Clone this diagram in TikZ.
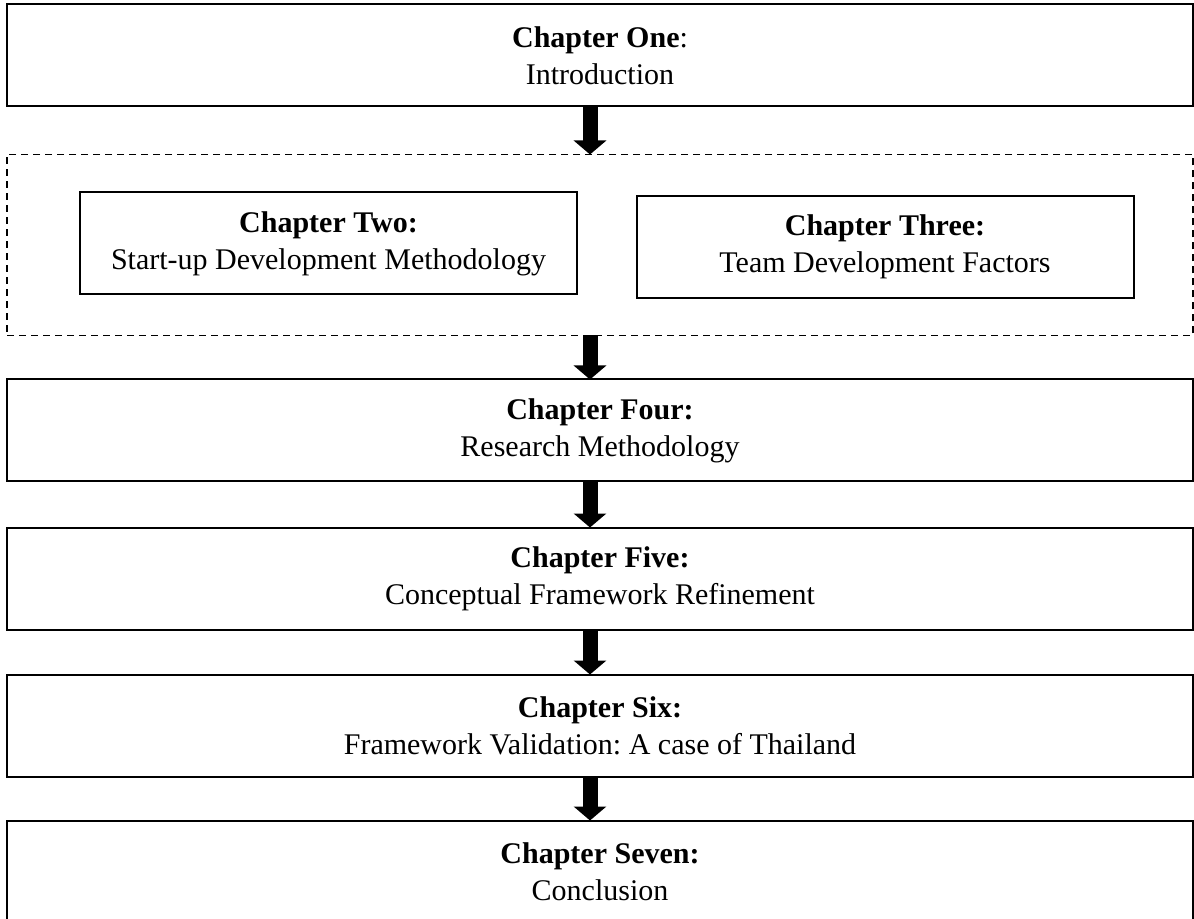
\documentclass[tikz,border=0pt]{standalone}
\usepackage{fontspec}
\setmainfont{Liberation Serif}
\usetikzlibrary{arrows.meta,positioning}
\frenchspacing

\begin{document}
\begin{tikzpicture}[
    x=0.5pt, y=-0.5pt,
    node distance=22.5pt,
    font=\fontsize{15pt}{18.5pt}\selectfont,
    chap/.style={draw, line width=1pt, align=center, inner sep=0pt, outer sep=0pt, minimum width=593pt, minimum height=51pt},
    sub/.style={draw, line width=1pt, align=center, inner sep=0pt, outer sep=0pt, minimum width=248.5pt, minimum height=51pt},
    frame/.style={draw, line width=0.9pt, dash pattern=on 3.5pt off 2.5pt, inner sep=0pt, outer sep=0pt, minimum width=593pt, minimum height=90.5pt},
    down/.style={line width=7.5pt, -{Triangle[width=16pt, length=7pt]}}
]
\useasboundingbox (0,0) rectangle (1194,919);
\node[chap] (one) at (600,55.5) {\textbf{Chapter One}:\\Introduction};
\node[frame, below=24pt of one] (lit) {};
\node[sub] (two) at (328.5,243.5) {\textbf{Chapter Two:}\\Start-up Development Methodology};
\node[sub] (three) at (885,247) {\textbf{Chapter Three:}\\Team Development Factors};
\node[chap, below=22pt of lit] (four) {\textbf{Chapter Four:}\\Research Methodology};
\node[chap, below=23pt of four] (five) {\textbf{Chapter Five:}\\Conceptual Framework Refinement};
\node[chap, below=of five] (six) {\textbf{Chapter Six:}\\Framework Validation: A case of Thailand};
\node[chap, below=22pt of six] (seven) {\textbf{Chapter Seven:}\\Conclusion};
\draw[down] ([xshift=-5pt]one.south) -- ([xshift=-5pt]lit.north);
\draw[down] ([xshift=-5pt]lit.south) -- ([xshift=-5pt]four.north);
\draw[down] ([xshift=-5pt]four.south) -- ([xshift=-5pt]five.north);
\draw[down] ([xshift=-5pt]five.south) -- ([xshift=-5pt]six.north);
\draw[down] ([xshift=-5pt]six.south) -- ([xshift=-5pt]seven.north);
\end{tikzpicture}
\end{document}
